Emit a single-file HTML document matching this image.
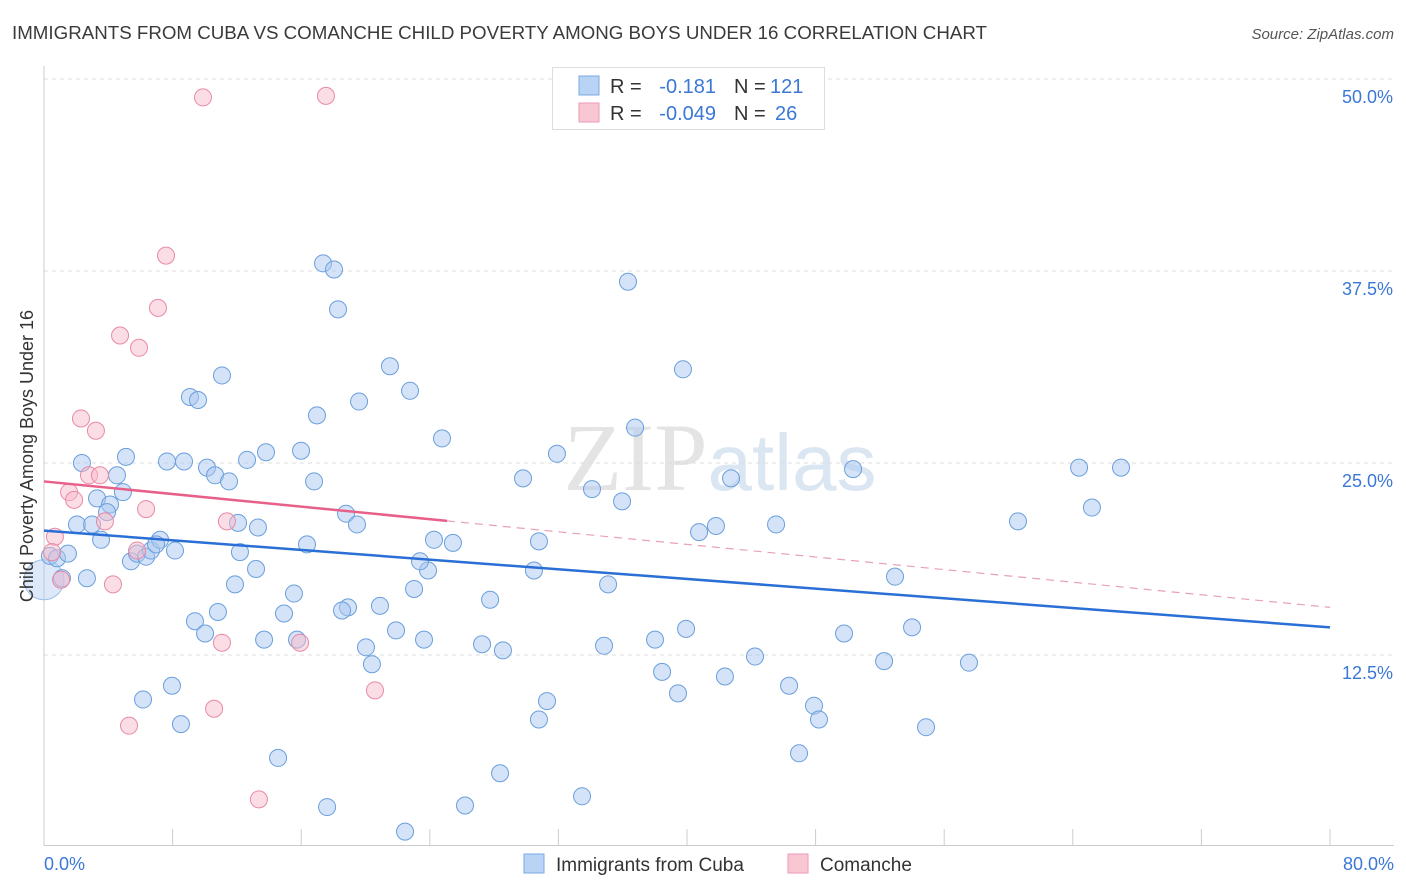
<!DOCTYPE html>
<html><head><meta charset="utf-8"><style>
body{margin:0;background:#fff;font-family:"Liberation Sans",sans-serif;}
svg{display:block}
</style></head><body>
<svg id="chart" width="1406" height="892" xmlns="http://www.w3.org/2000/svg">
<text x="12" y="39" font-size="18" fill="#3a3a3a" textLength="975" lengthAdjust="spacingAndGlyphs">IMMIGRANTS FROM CUBA VS COMANCHE CHILD POVERTY AMONG BOYS UNDER 16 CORRELATION CHART</text>
<text x="1394" y="39" font-size="15" fill="#555" font-style="italic" text-anchor="end">Source: ZipAtlas.com</text>
<text x="720" y="490" font-size="96" fill="#e4e4e4" text-anchor="middle" font-family="Liberation Serif,serif">ZIP<tspan font-family="Liberation Sans,sans-serif" fill="#dbe6f3" font-size="80">atlas</tspan></text>
<g id="grid"></g>
<g id="axes"></g>
<g id="pts"></g>
<g id="trend"></g>
<text x="33" y="456" font-size="18" fill="#333" text-anchor="middle" transform="rotate(-90 33 456)">Child Poverty Among Boys Under 16</text>
<text x="44" y="870" font-size="18" fill="#3b78d6">0.0%</text>
<text x="1394" y="870" font-size="18" fill="#3b78d6" text-anchor="end">80.0%</text>
<g>
<rect x="552.5" y="67.5" width="272" height="62" fill="#fff" stroke="#ddd"/>
<rect x="579" y="76" width="20" height="19" fill="#b9d3f4" stroke="#7aaae6"/>
<rect x="579" y="103" width="20" height="19" fill="#f9c6d4" stroke="#ef9ab3"/>
<text x="610" y="93" font-size="20" fill="#333">R = </text><text x="716" y="93" font-size="20" fill="#3b78d6" text-anchor="end">-0.181</text>
<text x="734" y="93" font-size="20" fill="#333">N = </text><text x="770" y="93" font-size="20" fill="#3b78d6">121</text>
<text x="610" y="120" font-size="20" fill="#333">R = </text><text x="716" y="120" font-size="20" fill="#3b78d6" text-anchor="end">-0.049</text>
<text x="734" y="120" font-size="20" fill="#333">N = </text><text x="775" y="120" font-size="20" fill="#3b78d6">26</text>
</g>
<g>
<rect x="524" y="854" width="20" height="19" fill="#b9d3f4" stroke="#7aaae6"/>
<text x="556" y="871" font-size="19" fill="#333">Immigrants from Cuba</text>
<rect x="788" y="854" width="20" height="19" fill="#f9c6d4" stroke="#ef9ab3"/>
<text x="820" y="871" font-size="19" fill="#333">Comanche</text>
</g>
</svg>
<script>
const yTicks=[12.5,25.0,37.5,50.0];
const xTicksCount=[0,8,16,24,32,40,48,56,64,72,80];
const cubaX=[0.37,0.81,1.49,1.12,2.67,2.05,2.36,2.99,3.30,3.55,4.11,3.92,4.54,4.91,5.10,5.41,5.79,6.35,6.66,7.22,6.97,8.15,7.65,8.71,9.08,9.58,10.14,10.64,11.07,11.51,12.07,12.19,11.88,13.19,13.31,12.63,13.81,10.82,9.39,10.02,7.96,6.16,8.52,13.69,14.56,14.93,15.55,15.74,15.99,16.36,16.80,16.98,17.36,18.04,18.29,18.79,19.47,19.60,21.52,22.77,20.90,18.91,18.54,20.03,20.40,21.90,23.02,23.64,23.89,23.39,24.26,25.44,24.76,27.25,27.75,28.55,17.61,22.46,26.19,28.37,30.79,31.29,30.48,30.79,29.80,31.91,33.47,34.84,35.09,35.96,34.09,36.77,36.33,38.01,38.45,39.44,39.94,39.75,40.75,41.80,42.36,42.74,44.23,45.54,46.35,46.97,47.90,48.21,49.77,50.33,52.26,52.94,54.00,54.87,57.54,60.59,64.39,65.19,67.00];
const cubaY=[18.95,18.8,19.1,17.5,17.5,21.0,25.0,21.0,22.7,20.0,22.3,21.8,24.2,23.1,25.4,18.6,19.1,18.9,19.3,20.0,19.7,19.3,25.1,25.1,29.3,29.1,24.7,24.2,30.7,23.8,21.1,19.2,17.1,18.1,20.8,25.2,25.7,15.3,14.7,13.9,10.5,9.6,8.0,13.5,5.8,15.2,16.5,13.5,25.8,19.7,23.8,28.1,38.0,37.6,35.0,21.7,21.0,29.0,31.3,29.7,15.7,15.6,15.4,13.0,11.9,14.1,16.8,13.5,18.0,18.6,20.0,19.8,26.6,13.2,16.1,12.8,2.6,1.0,2.7,4.8,8.3,9.5,18.0,19.9,24.0,25.6,3.3,13.1,17.1,22.5,23.3,27.3,36.8,13.5,11.4,10.0,14.2,31.1,20.5,20.9,11.1,24.0,12.4,21.0,10.5,6.1,9.2,8.3,13.9,24.6,12.1,17.6,14.3,7.8,12.0,21.2,24.7,22.1,24.7];
const comX=[9.89,17.54,7.59,7.09,4.73,5.91,2.30,3.23,2.80,3.48,1.56,1.87,6.35,3.79,11.38,0.68,0.50,5.79,1.06,4.29,11.07,15.93,10.58,20.59,5.29,13.37];
const comY=[48.8,48.9,38.5,35.1,33.3,32.5,27.9,27.1,24.2,24.2,23.1,22.6,22.0,21.2,21.2,20.2,19.2,19.3,17.4,17.1,13.3,13.3,9.0,10.2,7.9,3.1];
const cubaTrend=[20.6,14.3];
const comTrend=[23.8,15.6];
const comSolidEnd=25.07;
const NS='http://www.w3.org/2000/svg';
const X0=44,X1=1330,YTOP=79,PXPER=15.36;
function sx(v){return X0+(X1-X0)*v/80;}
function sy(v){return YTOP+(50-v)*PXPER;}
function mk(t,a,p){const e=document.createElementNS(NS,t);for(const k in a)e.setAttribute(k,a[k]);p.appendChild(e);return e;}
const grid=document.getElementById('grid'),axes=document.getElementById('axes'),pts=document.getElementById('pts'),tr=document.getElementById('trend');
yTicks.forEach(v=>{
 const l=mk('line',{x1:X0,x2:1394,y1:sy(v),y2:sy(v),stroke:'#ddd','stroke-dasharray':'4,4'},grid);
 
 
 const t=mk('text',{x:1393,y:sy(v)+24,'font-size':18,fill:'#3b78d6','text-anchor':'end'},grid);
 t.textContent=v.toFixed(1)+'%';
 
 
});
const yl=mk('line',{x1:X0,x2:X0,y1:66,y2:846,stroke:'#ccc'},axes);


const xl=mk('line',{x1:X0,x2:1394,y1:845.5,y2:845.5,stroke:'#ccc'},axes);


xTicksCount.forEach(v=>{
 const l=mk('line',{x1:sx(v),x2:sx(v),y1:829,y2:846,stroke:'#ccc'},axes);
 
 
});
function dots(xs,ys,fill,stroke,name){
 xs.forEach((x,i)=>{
  const c=mk('circle',{cx:sx(x),cy:sy(ys[i]),r:8.5,fill:fill,'fill-opacity':0.5,stroke:stroke,'stroke-width':1},pts);
  
  
 });
}
const big=mk('circle',{cx:sx(0),cy:sy(17.4),r:20,fill:'#a9c8f0','fill-opacity':0.4,stroke:'#9bbfe8'},pts);


dots(cubaX,cubaY,'#a9c8f0','#6a9fdc','cuba-point');
dots(comX,comY,'#f7bccb','#e88aa5','comanche-point');
const bl=mk('line',{x1:sx(0),y1:sy(cubaTrend[0]),x2:sx(80),y2:sy(cubaTrend[1]),stroke:'#2a6fd6','stroke-width':2.5},tr);


const midY=comTrend[0]+(comTrend[1]-comTrend[0])*comSolidEnd/80;
const pl=mk('line',{x1:sx(0),y1:sy(comTrend[0]),x2:sx(comSolidEnd),y2:sy(midY),stroke:'#e8608a','stroke-width':2.5},tr);


const pd=mk('line',{x1:sx(comSolidEnd),y1:sy(midY),x2:sx(80),y2:sy(comTrend[1]),stroke:'#e8a0b5','stroke-width':1.2,'stroke-dasharray':'8,6'},tr);


</script>
</body></html>
